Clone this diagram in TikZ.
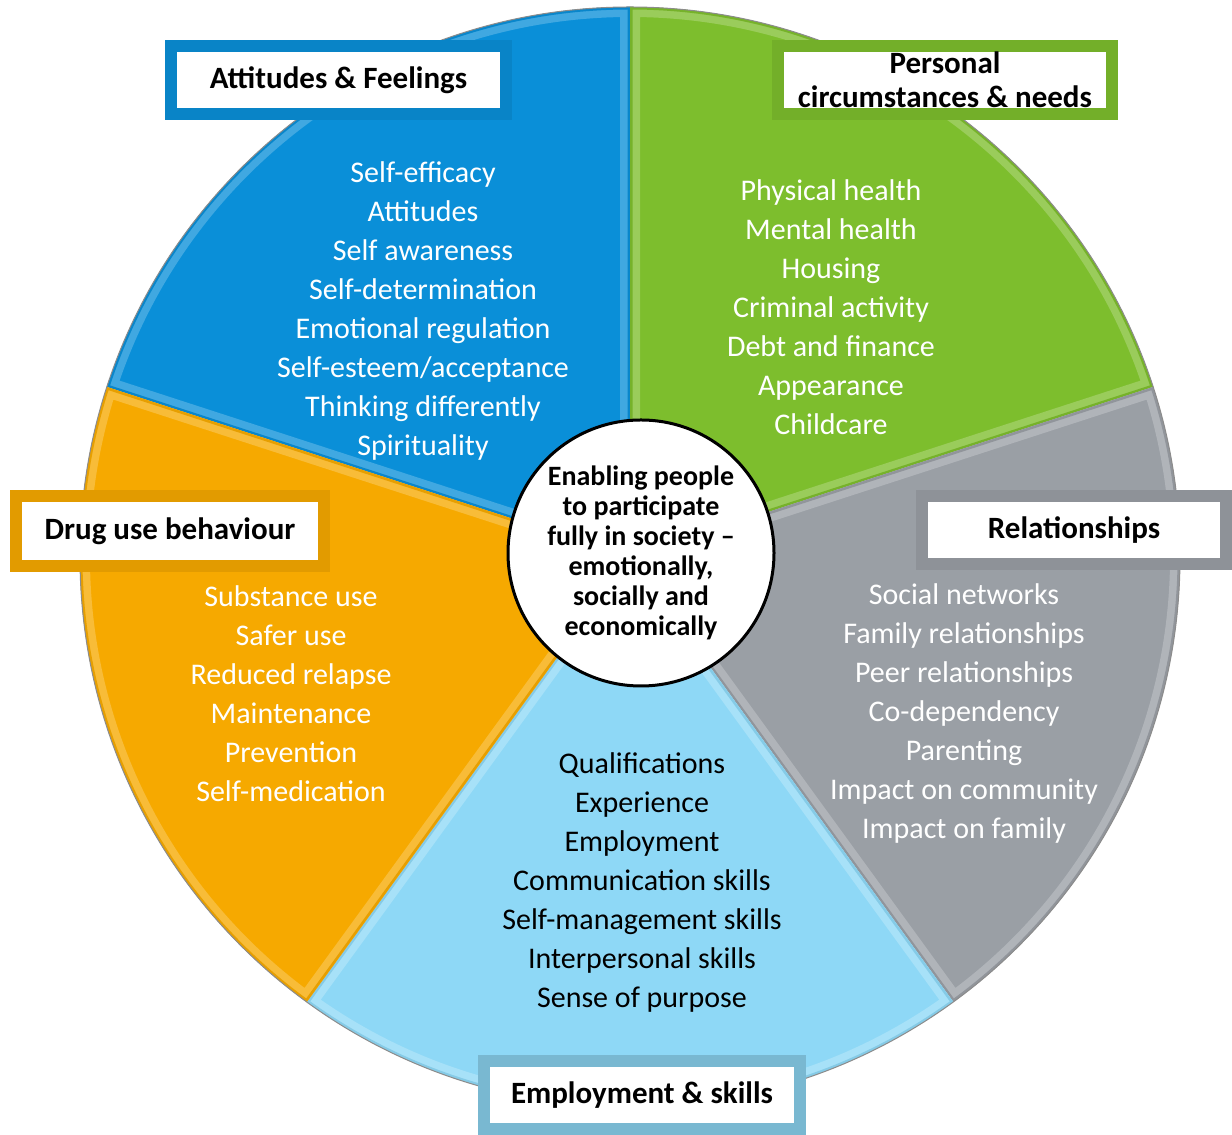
\documentclass[tikz,border=0pt]{standalone}
\usepackage{fontspec}
\setmainfont{Carlito}
\usetikzlibrary{positioning}

\definecolor{attblue}{RGB}{10,143,216}
\definecolor{pergreen}{RGB}{125,190,45}
\definecolor{relgray}{RGB}{154,159,165}
\definecolor{empblue}{RGB}{142,216,246}
\definecolor{drugorange}{RGB}{246,169,0}

\tikzset{
  sectitle/.style={draw=#1, line width=12pt, fill=white, align=center, inner sep=0pt,
    font=\bfseries\fontsize{31}{34}\selectfont},
  itemlist/.style={text=white, align=center, inner sep=0pt,
    font=\fontsize{30}{39}\selectfont},
}

\begin{document}
\begin{tikzpicture}[x=1pt, y=1pt]
\useasboundingbox (0,0) rectangle (1232,1135);
\coordinate (c) at (630,578);

% Pie sectors with bevelled rims
\foreach \a/\col in {90/attblue, 18/pergreen, -54/relgray, -126/empblue, 162/drugorange} {
  \begin{scope}
    \clip (c) -- ++(\a:550) arc (\a:\a+72:550) -- cycle;
    \fill[\col] (c) circle (550);
    \draw[\col!78!white, line width=20pt] (c) -- ++(\a:550) arc (\a:\a+72:550) -- cycle;
    \draw[\col!94!black, line width=5pt] (c) -- ++(\a:550) arc (\a:\a+72:550) -- cycle;
  \end{scope}
}
\draw[black!45, line width=1pt] (c) circle (550);

% Lists inside the sectors
\node[itemlist] (attlist) at (423,824) {Self-efficacy\\Attitudes\\Self awareness\\Self-determination\\Emotional regulation\\Self-esteem/acceptance\\Thinking differently\\Spirituality};
\node[itemlist] (perlist) at (831,828) {Physical health\\Mental health\\Housing\\Criminal activity\\Debt and finance\\Appearance\\Childcare};
\node[itemlist] (druglist) at (291,441) {Substance use\\Safer use\\Reduced relapse\\Maintenance\\Prevention\\Self-medication};
\node[itemlist, text=black] (emplist) at (642,252) {Qualifications\\Experience\\Employment\\Communication skills\\Self-management skills\\Interpersonal skills\\Sense of purpose};
\node[itemlist] (rellist) at (964,421) {Social networks\\Family relationships\\Peer relationships\\Co-dependency\\Parenting\\Impact on community\\Impact on family};

% Hub
\node[circle, draw, line width=3pt, fill=white, minimum size=266pt, inner sep=0pt, align=center,
  font=\bfseries\fontsize{28}{30}\selectfont] (hub) at (641,582)
  {Enabling people\\to participate\\fully in society --\\emotionally,\\socially and\\economically};

% Titles
\node[sectitle=attblue!92!black, minimum width=335pt, minimum height=68pt] (atttitle) at (338.5,1055) {Attitudes \& Feelings};
\node[sectitle=pergreen!92!black, minimum width=334pt, minimum height=68pt] (pertitle) at (945,1055) {Personal\\circumstances \& needs};
\node[sectitle=drugorange!92!black, minimum width=308pt, minimum height=70pt] (drugtitle) at (170,604) {Drug use behaviour};
\node[sectitle=relgray!92!black, minimum width=304pt, minimum height=68pt] (reltitle) at (1074,605) {Relationships};
\node[sectitle=empblue!85!black, minimum width=316pt, minimum height=68pt] (emptitle) at (642,40) {Employment \& skills};

\end{tikzpicture}
\end{document}
